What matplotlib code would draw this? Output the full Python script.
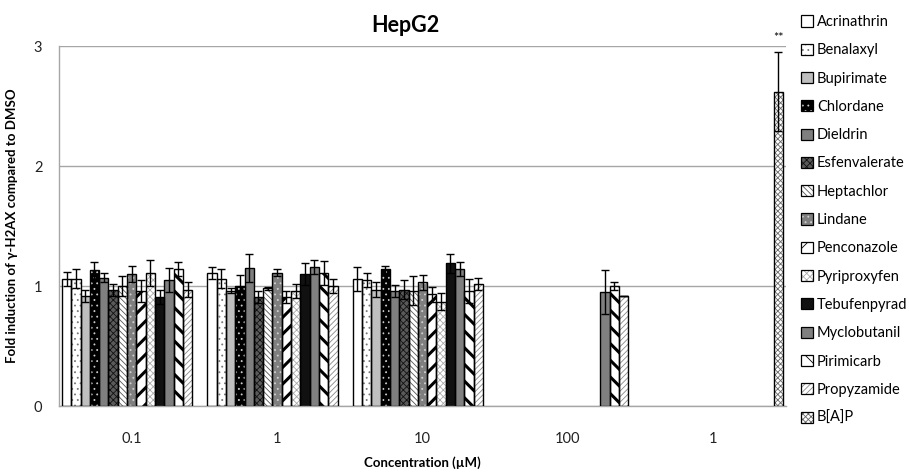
import numpy as np
import matplotlib
matplotlib.use("Agg")
from matplotlib import pyplot as plt
from matplotlib.patches import Patch

plt.rcParams['font.family'] = ['Lato', 'DejaVu Sans']
plt.rcParams['hatch.linewidth'] = 0.6

# concentraciones (grupos en el eje x)
grupos = ["0.1", "1", "10", "100", "1"]

compuestos = ["Acrinathrin", "Benalaxyl", "Bupirimate", "Chlordane", "Dieldrin",
              "Esfenvalerate", "Heptachlor", "Lindane", "Penconazole", "Pyriproxyfen",
              "Tebufenpyrad", "Myclobutanil", "Pirimicarb", "Propyzamide", "B[A]P"]

nan = np.nan
# valores por compuesto: [0.1, 1, 10, 100, 1]
acrinathrin   = [1.06, 1.11, 1.06, nan, nan]
benalaxyl     = [1.06, 1.06, 1.05, nan, nan]
bupirimate    = [0.92, 0.96, 0.97, nan, nan]
chlordane     = [1.13, 1.00, 1.14, nan, nan]
dieldrin      = [1.07, 1.15, 0.96, nan, nan]
esfenvalerate = [0.97, 0.91, 0.97, nan, nan]
heptachlor    = [1.00, 0.98, 0.96, nan, nan]
lindane       = [1.10, 1.11, 1.03, nan, nan]
penconazole   = [0.96, 0.91, 0.93, nan, nan]
pyriproxyfen  = [1.11, 0.96, 0.87, nan, nan]
tebufenpyrad  = [0.91, 1.10, 1.19, nan, nan]
myclobutanil  = [1.05, 1.16, 1.14, 0.95, nan]
pirimicarb    = [1.14, 1.11, 0.96, 1.00, nan]
propyzamide   = [0.97, 1.00, 1.02, 0.92, nan]
bap           = [nan, nan, nan, nan, 2.62]

# barras de error
err_acrinathrin   = [0.06, 0.05, 0.10, nan, nan]
err_benalaxyl     = [0.08, 0.08, 0.06, nan, nan]
err_bupirimate    = [0.05, 0.02, 0.06, nan, nan]
err_chlordane     = [0.07, 0.09, 0.03, nan, nan]
err_dieldrin      = [0.035, 0.12, 0.05, nan, nan]
err_esfenvalerate = [0.05, 0.05, 0.08, nan, nan]
err_heptachlor    = [0.08, 0.01, 0.12, nan, nan]
err_lindane       = [0.07, 0.03, 0.06, nan, nan]
err_penconazole   = [0.09, 0.05, 0.06, nan, nan]
err_pyriproxyfen  = [0.11, 0.06, 0.07, nan, nan]
err_tebufenpyrad  = [0.06, 0.09, 0.08, nan, nan]
err_myclobutanil  = [0.10, 0.06, 0.06, 0.18, nan]
err_pirimicarb    = [0.06, 0.10, 0.10, 0.03, nan]
err_propyzamide   = [0.06, 0.06, 0.05, 0.0, nan]
err_bap           = [nan, nan, nan, nan, 0.33]

valores = [acrinathrin, benalaxyl, bupirimate, chlordane, dieldrin, esfenvalerate,
           heptachlor, lindane, penconazole, pyriproxyfen, tebufenpyrad,
           myclobutanil, pirimicarb, propyzamide, bap]
errores = [err_acrinathrin, err_benalaxyl, err_bupirimate, err_chlordane, err_dieldrin,
           err_esfenvalerate, err_heptachlor, err_lindane, err_penconazole,
           err_pyriproxyfen, err_tebufenpyrad, err_myclobutanil, err_pirimicarb,
           err_propyzamide, err_bap]

# estilo de relleno: (color de fondo, hatch, color del hatch, grosor hatch)
estilos = [
    ("white", None, "black", 0.6),
    ("white", "...", "#777777", 0.6),
    ("#bfbfbf", None, "black", 0.6),
    ("black", "...", "#cccccc", 0.6),
    ("#7f7f7f", None, "black", 0.6),
    ("#5a5a5a", "xxxxx", "#111111", 0.6),
    ("white", "\\\\\\\\\\\\", "#555555", 0.6),
    ("#7f7f7f", "...", "#d0d0d0", 0.6),
    ("white", "//", "black", 2.2),
    ("white", "xxxxx", "#aaaaaa", 0.6),
    ("#111111", None, "black", 0.6),
    ("#808080", None, "black", 0.6),
    ("white", "\\\\", "black", 2.2),
    ("white", "//////", "#888888", 0.6),
    ("white", "xxxxxx", "#666666", 0.6),
]

fig = plt.figure(figsize=(9.09, 4.72), dpi=100)
ax = fig.add_axes([59/909, 1 - 406/472, (786 - 59)/909, (406 - 46)/472])

x = np.arange(len(grupos))
w = 0.064
n = len(compuestos)

for i in range(n):
    fc, hatch, hc, hlw = estilos[i]
    pos = x + (i - (n - 1) / 2) * w
    vals = np.array(valores[i], dtype=float)
    # relleno con hatch
    barras = ax.bar(pos, vals, w, color=fc, edgecolor=hc, hatch=hatch, linewidth=0, zorder=2)
    for b in barras:
        if hasattr(b, "set_hatch_linewidth"):
            b.set_hatch_linewidth(hlw)
    # borde negro
    ax.bar(pos, vals, w, facecolor="none", edgecolor="black", linewidth=1.0, zorder=3)
    ax.errorbar(pos, vals, yerr=np.array(errores[i], dtype=float), fmt="none",
                ecolor="black", elinewidth=1.0, capsize=3, capthick=1.0, zorder=4)

# significancia
i_bap = compuestos.index("B[A]P")
x_bap = x[4] + (i_bap - (n - 1) / 2) * w
ax.text(x_bap, 3.02, "**", ha="center", va="bottom", fontsize=9, clip_on=False)

ax.set_ylim(0, 3)
ax.set_xlim(-0.5, len(grupos) - 0.5)
ax.set_yticks([0, 1, 2, 3])
ax.set_xticks(x)
ax.set_xticklabels(grupos)
ax.tick_params(axis="both", length=0, labelsize=10.5, colors="#222222")
ax.tick_params(axis="x", pad=19)
ax.tick_params(axis="y", pad=12)
ax.grid(axis="y", color="#a6a6a6", linewidth=1.0, zorder=0)
ax.set_axisbelow(True)
for s in ["top", "right"]:
    ax.spines[s].set_visible(False)
for s in ["left", "bottom"]:
    ax.spines[s].set_color("#a6a6a6")
    ax.spines[s].set_linewidth(1.0)

ax.set_ylabel("Fold induction of γ-H2AX compared to DMSO", fontsize=9.5, fontweight="bold")
ax.yaxis.set_label_coords(-0.057, 0.5)
ax.set_xlabel("Concentration (µM)", fontsize=9.5, fontweight="bold")
ax.xaxis.set_label_coords(0.5, -0.14)

fig.text(405/909, 1 - 26/472, "HepG2", ha="center", va="center", fontsize=15.5, fontweight="bold")

# leyenda: relleno + borde superpuestos
handles = []
for i in range(n):
    fc, hatch, hc, hlw = estilos[i]
    relleno = Patch(facecolor=fc, edgecolor=hc, hatch=hatch, linewidth=0)
    if hasattr(relleno, "set_hatch_linewidth"):
        relleno.set_hatch_linewidth(hlw)
    borde = Patch(facecolor="none", edgecolor="black", linewidth=0.9)
    handles.append((relleno, borde))
fig.legend(handles, compuestos, loc="upper left", bbox_to_anchor=(801/909, 1 - 15/472),
           frameon=False, fontsize=10.5, handlelength=0.8, handleheight=0.8,
           handletextpad=0.3, labelspacing=0.98, borderaxespad=0, borderpad=0)

fig.savefig("out.png", dpi=100)
